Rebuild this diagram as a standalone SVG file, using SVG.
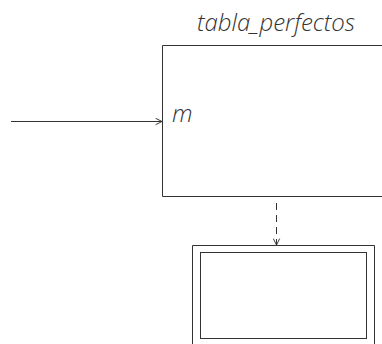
<svg xmlns="http://www.w3.org/2000/svg" width="382" height="344" viewBox="0 0 382 344">
<style>
.t{font-family:"Open Sans","DejaVu Sans",sans-serif;font-style:italic;font-weight:300;fill:#333;}
.ln{fill:none;stroke:#333;stroke-width:1;}
</style>
<defs>
<marker id="ah" viewBox="0 0 10 10" refX="9" refY="5" markerWidth="8" markerHeight="8" markerUnits="userSpaceOnUse" orient="auto">
<path d="M1,1 L9,5 L1,9" fill="none" stroke="#333" stroke-width="1.2"/>
</marker>
</defs>
<rect width="382" height="344" fill="#fff"/>
<g id="tabla_perfectos">
<path class="ln" d="M382,45.5 H162.5 V196.5 H382" stroke="#555"/>
<text class="t" x="276" y="31" font-size="24" text-anchor="middle">tabla_perfectos</text>
<text class="t" x="172" y="122" font-size="24">m</text>
</g>
<g id="sub">
<path class="ln" d="M192.5,344 V245.5 H374.5 V344"/>
<rect class="ln" x="200.5" y="252.5" width="166" height="86"/>
</g>
<g id="connectors">
<line class="ln" x1="11" y1="121.5" x2="162" y2="121.5" marker-end="url(#ah)"/>
<line class="ln" x1="276.5" y1="203" x2="276.5" y2="245" stroke-dasharray="7,5" marker-end="url(#ah)"/>
</g>
</svg>
